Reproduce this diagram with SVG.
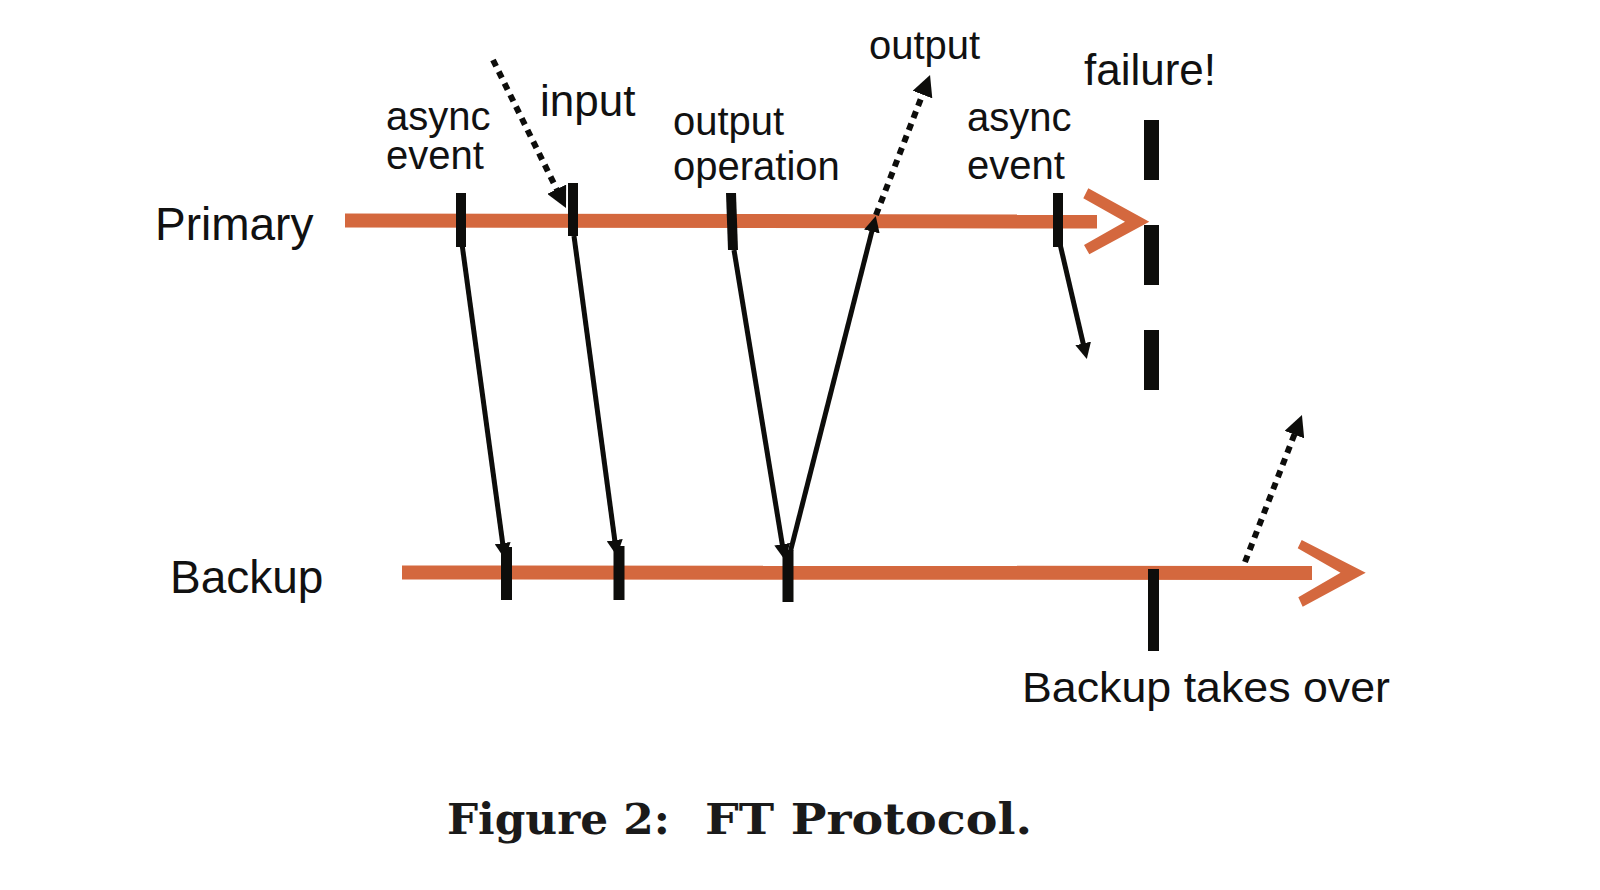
<svg xmlns="http://www.w3.org/2000/svg" width="1600" height="890" viewBox="0 0 1600 890">
<style>
.lbl{font-family:"Liberation Sans",Arial,Helvetica,sans-serif;fill:#111}
.tl{stroke:#D4683E;stroke-width:14;fill:none}
.chev{fill:#D4683E}
.tick{fill:#0d0d0b}
.arr{stroke:#0d0d0b;stroke-width:5;fill:none;marker-end:url(#head)}
.dot{stroke:#0d0d0b;stroke-width:6;fill:none;stroke-dasharray:7 6;marker-end:url(#headBig)}
.cap{font-family:"DejaVu Serif","Liberation Serif",serif;font-weight:bold;fill:#1a1a1a}
</style>
<defs>
<marker id="head" markerUnits="userSpaceOnUse" viewBox="0 0 16 16" markerWidth="16" markerHeight="16" refX="1" refY="8" orient="auto">
<path d="M0,0 L16,8 L0,16 Z" fill="#0d0d0b"/>
</marker>
<marker id="headBig" markerUnits="userSpaceOnUse" viewBox="0 0 21 21" markerWidth="21" markerHeight="21" refX="2" refY="10.5" orient="auto">
<path d="M0,0 L21,10.5 L0,21 Z" fill="#0d0d0b"/>
</marker>
</defs>
<rect width="1600" height="890" fill="#fff"/>

<g id="primary">
<line class="tl" x1="345" y1="220.5" x2="1097" y2="221.5"/>
<polygon class="chev" points="1088.3,188.3 1149.3,221.7 1089.3,254.3 1084,245 1125,221.7 1083.3,198.3"/>
<text class="lbl" x="155" y="240" font-size="46">Primary</text>
</g>

<g id="backup">
<line class="tl" x1="402" y1="572.5" x2="1312" y2="573"/>
<polygon class="chev" points="1301.7,540 1365.7,572.7 1302.7,606.7 1298.3,597.3 1340.5,572.7 1297.7,548.3"/>
<text class="lbl" x="170" y="593" font-size="46">Backup</text>
</g>

<g id="connectors">
<line class="arr" x1="462" y1="244" x2="502.8" y2="544.1"/>
<line class="arr" x1="574" y1="236" x2="614.9" y2="541.1"/>
<line class="arr" x1="734" y1="250" x2="782.4" y2="545.2"/>
<line class="arr" x1="790" y1="553" x2="872.1" y2="230.5"/>
<line class="arr" x1="1060" y1="244" x2="1083.4" y2="344.4"/>
<line class="dot" x1="493" y1="60" x2="557.6" y2="191"/>
<line class="dot" x1="876" y1="215" x2="923.2" y2="92.7"/>
<line class="dot" x1="1245" y1="562" x2="1295.1" y2="432.7"/>
</g>

<g id="primary-events">
<rect class="tick" x="456" y="193" width="10" height="54"/>
<rect class="tick" x="568" y="183" width="10" height="53"/>
<polygon class="tick" points="726,193 736,193 738,250 728,250"/>
<rect class="tick" x="1053" y="193" width="10" height="54"/>
</g>

<g id="backup-events">
<rect class="tick" x="501" y="547" width="11" height="53"/>
<rect class="tick" x="613.5" y="546" width="11" height="54"/>
<rect class="tick" x="782.5" y="550" width="11" height="52"/>
<rect class="tick" x="1148" y="569" width="11" height="82"/>
</g>

<g id="failure">
<line x1="1151.5" y1="120" x2="1151.5" y2="390" stroke="#0d0d0b" stroke-width="15" stroke-dasharray="60 45"/>
<text class="lbl" x="1084" y="85" font-size="44">failure!</text>
</g>

<g id="labels">
<text class="lbl" x="386" y="130" font-size="40">async</text>
<text class="lbl" x="386" y="169" font-size="40">event</text>
<text class="lbl" x="540" y="116" font-size="44">input</text>
<text class="lbl" x="673" y="135" font-size="40">output</text>
<text class="lbl" x="673" y="180" font-size="40">operation</text>
<text class="lbl" x="869" y="59" font-size="40">output</text>
<text class="lbl" x="967" y="131" font-size="40">async</text>
<text class="lbl" x="967" y="179" font-size="40">event</text>
<text class="lbl" x="1022" y="702" font-size="42" textLength="368" lengthAdjust="spacingAndGlyphs">Backup takes over</text>
</g>

<g id="caption">
<text class="cap" x="447" y="834" font-size="43" textLength="223" lengthAdjust="spacingAndGlyphs">Figure 2:</text>
<text class="cap" x="705" y="834" font-size="43" textLength="327" lengthAdjust="spacingAndGlyphs">FT Protocol.</text>
</g>
</svg>
